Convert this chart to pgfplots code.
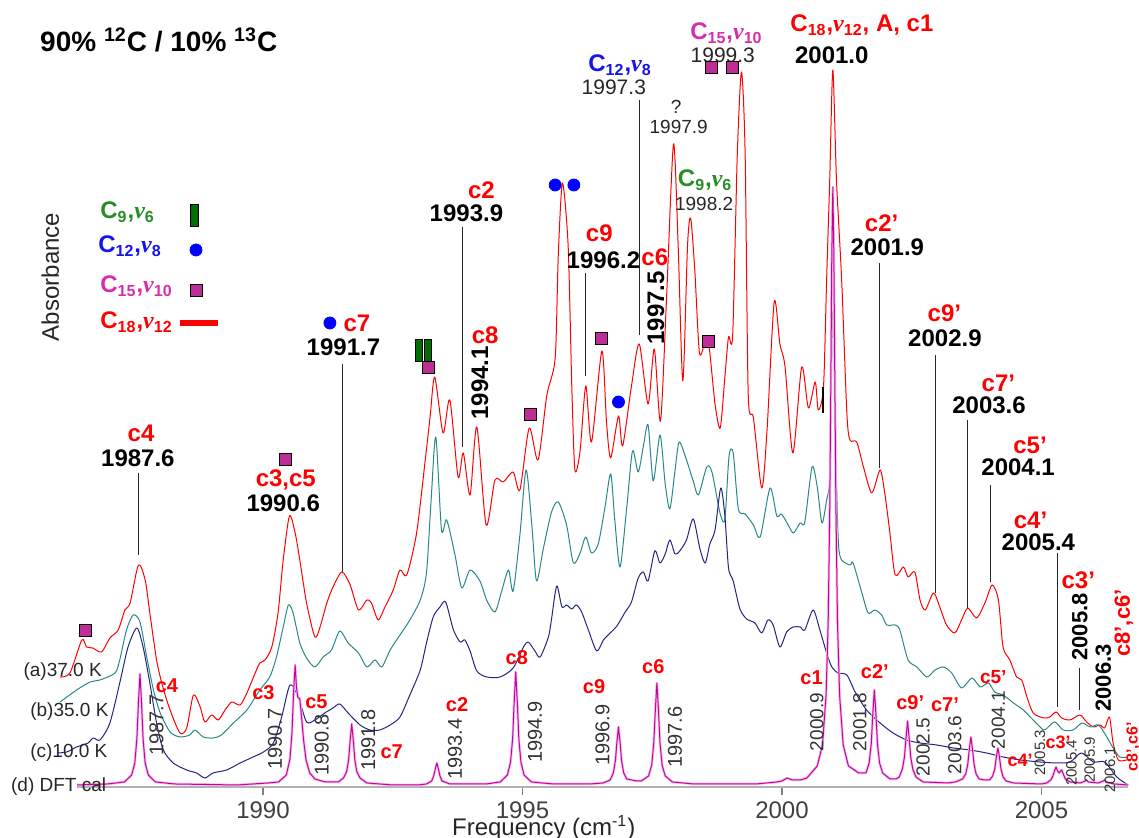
\documentclass[border=0pt]{standalone}
\usepackage{pgfplots}
\pgfplotsset{compat=1.18}
\usepackage{fontspec}
\setmainfont{Liberation Sans}
\newfontfamily\nufont{Liberation Serif}
\newcommand{\nuu}{{\nufont\itshape ν}}
\newcommand{\fs}[1]{\fontsize{#1}{#1}\selectfont}
\definecolor{cred}{RGB}{255,0,0}
\definecolor{cteal}{RGB}{40,135,135}
\definecolor{cnavy}{RGB}{35,35,130}
\definecolor{cmag}{RGB}{200,0,160}
\definecolor{cpink}{RGB}{243,190,232}
\definecolor{cgreen}{RGB}{40,140,40}
\definecolor{cblue}{RGB}{20,20,235}
\definecolor{ctxmag}{RGB}{215,45,170}
\definecolor{csq}{RGB}{190,45,150}
\definecolor{cbar}{RGB}{0,110,0}
\pgfdeclareplotmark{gbar}{\pgfpathrectangle{\pgfqpoint{-1.8pt}{-5.5pt}}{\pgfqpoint{3.6pt}{11pt}}\pgfusepathqfillstroke}
\tikzset{
 every node/.append style={inner sep=0pt},
 rb/.style={text=cred, font=\fs{12}\bfseries},
 kb/.style={text=black, font=\fs{12}\bfseries},
 kr/.style={text=black!85, font=\fs{10.5}},
 ks/.style={text=black!85, font=\fs{9.5}},
 lr/.style={text=cred, font=\fs{10}\bfseries},
 lk/.style={text=black!80, font=\fs{10}, rotate=90},
 ld/.style={draw=black!85, line width=0.5pt},
}
\begin{document}
\begin{tikzpicture}
\begin{axis}[
  scale only axis, width=525.49pt, height=393.5pt,
  xmin=1986.42, xmax=2006.67, ymin=0, ymax=787,
  axis x line=bottom, axis y line=none,
  x axis line style={-, black!30, line width=1pt},
  xtick={1990,1995,2000,2005}, xticklabels={1990,1995,2000,2005},
  tick align=outside, major tick length=4pt,
  tick style={black!50, line width=0.6pt},
  xticklabel style={font=\fs{12}, text=black!75, yshift=-3pt},
  clip=false,
]
% (a) 37 K
\addplot[color=cred, line width=0.5pt, line join=round, smooth, tension=0.45] table {
x y
1986.09 110
1986.28 114
1986.51 147
1986.60 140
1986.72 139
1986.89 135
1987.05 149
1987.21 157
1987.34 177
1987.44 184
1987.60 222
1987.73 207
1987.82 174
1987.95 127
1988.07 100
1988.21 77
1988.40 54
1988.53 59
1988.66 92
1988.79 80
1988.88 65
1989.01 72
1989.14 67
1989.27 77
1989.40 85
1989.56 82
1989.69 94
1989.85 114
1989.94 124
1990.04 127
1990.17 140
1990.29 174
1990.39 227
1990.51 271
1990.62 254
1990.71 227
1990.84 184
1991.00 150
1991.10 160
1991.23 184
1991.35 200
1991.52 215
1991.68 202
1991.84 177
1992.00 187
1992.09 184
1992.22 167
1992.35 180
1992.51 197
1992.64 217
1992.77 212
1992.96 254
1993.12 324
1993.22 370
1993.31 410
1993.47 354
1993.60 387
1993.76 310
1993.86 334
1993.99 292
1994.12 360
1994.30 262
1994.47 307
1994.63 305
1994.82 315
1994.95 297
1995.13 359
1995.30 327
1995.47 392
1995.63 429
1995.69 532
1995.77 604
1995.88 541
1995.95 401
1996.01 317
1996.11 336
1996.22 401
1996.33 345
1996.53 436
1996.62 364
1996.70 329
1996.85 371
1996.93 341
1997.10 401
1997.25 443
1997.42 383
1997.54 438
1997.66 366
1997.78 494
1997.91 643
1998.00 541
1998.09 406
1998.18 541
1998.24 569
1998.32 517
1998.41 434
1998.52 445
1998.60 438
1998.71 383
1998.81 359
1998.90 410
1998.97 450
1999.05 452
1999.14 634
1999.22 715
1999.29 634
1999.35 392
1999.45 369
1999.61 299
1999.71 355
1999.85 485
1999.96 443
2000.06 420
2000.21 334
2000.38 420
2000.51 379
2000.64 405
2000.70 377
2000.80 400
2000.86 507
2000.92 607
2000.98 717
2001.05 607
2001.15 507
2001.25 374
2001.31 347
2001.44 345
2001.57 320
2001.73 294
2001.89 317
2001.98 294
2002.08 254
2002.18 212
2002.34 220
2002.43 210
2002.56 215
2002.66 187
2002.76 177
2002.92 194
2003.04 180
2003.17 162
2003.33 154
2003.46 167
2003.58 179
2003.75 169
2003.91 184
2004.05 202
2004.17 187
2004.26 140
2004.39 127
2004.52 110
2004.62 107
2004.72 90
2004.84 74
2005.04 69
2005.16 70
2005.28 75
2005.39 69
2005.55 67
2005.74 72
2005.87 65
2006.00 60
2006.13 62
2006.22 59
2006.31 70
2006.38 44
2006.48 27
2006.64 27
};
% (b) 35 K
\addplot[color=cteal, line width=0.5pt, line join=round, smooth, tension=0.45] table {
x y
1986.09 85
1986.41 97
1986.67 105
1986.86 107
1987.15 114
1987.24 127
1987.37 157
1987.50 172
1987.63 165
1987.76 130
1987.89 97
1988.02 74
1988.21 55
1988.40 50
1988.59 52
1988.69 57
1988.85 50
1989.04 49
1989.20 52
1989.43 64
1989.69 77
1989.94 97
1990.13 110
1990.26 130
1990.39 160
1990.49 182
1990.58 174
1990.71 144
1990.84 129
1991.00 120
1991.16 130
1991.32 137
1991.48 156
1991.64 144
1991.84 134
1992.00 120
1992.16 127
1992.29 120
1992.45 137
1992.64 152
1992.83 167
1993.03 187
1993.15 214
1993.24 287
1993.33 350
1993.44 257
1993.54 267
1993.70 232
1993.83 199
1993.99 217
1994.18 206
1994.31 187
1994.47 175
1994.60 196
1994.73 217
1994.82 196
1994.95 252
1995.07 317
1995.18 262
1995.27 206
1995.40 238
1995.56 275
1995.69 285
1995.85 262
1995.98 224
1996.11 234
1996.22 250
1996.33 234
1996.46 243
1996.59 280
1996.70 313
1996.78 266
1996.88 220
1997.01 280
1997.12 336
1997.23 315
1997.33 341
1997.42 362
1997.52 306
1997.65 352
1997.75 303
1997.84 278
1997.94 317
1998.02 345
1998.16 327
1998.29 306
1998.39 292
1998.55 320
1998.65 315
1998.81 273
1998.90 268
1998.98 331
1999.06 334
1999.16 278
1999.29 273
1999.45 262
1999.58 250
1999.77 299
1999.90 271
1999.99 273
2000.12 262
2000.22 254
2000.35 264
2000.44 265
2000.58 320
2000.68 300
2000.77 264
2000.86 287
2000.93 317
2000.98 487
2001.05 307
2001.09 242
2001.15 227
2001.31 222
2001.37 224
2001.54 194
2001.66 174
2001.79 177
2001.92 172
2002.02 162
2002.18 162
2002.27 157
2002.43 127
2002.60 120
2002.79 110
2002.95 117
2003.11 120
2003.27 114
2003.46 99
2003.66 109
2003.82 100
2003.98 104
2004.10 95
2004.26 92
2004.46 84
2004.65 77
2004.84 67
2005.04 57
2005.13 60
2005.26 65
2005.42 57
2005.61 57
2005.78 64
2005.94 60
2006.10 62
2006.26 50
2006.38 39
2006.51 30
2006.67 30
};
% (c) 10 K
\addplot[color=cnavy, line width=0.5pt, line join=round, smooth, tension=0.45] table {
x y
1986.03 34
1986.22 35
1986.41 40
1986.63 44
1986.73 49
1986.86 47
1987.05 64
1987.24 104
1987.40 140
1987.57 159
1987.69 140
1987.82 104
1987.95 64
1988.08 37
1988.27 24
1988.53 17
1988.72 14
1988.88 9
1989.04 14
1989.30 17
1989.56 24
1989.81 30
1990.01 35
1990.20 44
1990.36 70
1990.52 102
1990.68 90
1990.84 65
1991.00 67
1991.19 74
1991.35 79
1991.48 83
1991.64 74
1991.87 62
1992.06 57
1992.25 57
1992.45 62
1992.64 70
1992.83 92
1993.03 117
1993.15 144
1993.28 170
1993.41 180
1993.52 185
1993.67 157
1993.80 145
1993.89 147
1993.99 136
1994.12 116
1994.31 110
1994.57 110
1994.82 119
1995.02 140
1995.11 145
1995.24 136
1995.34 130
1995.50 150
1995.56 168
1995.66 201
1995.76 180
1995.85 182
1995.95 178
1996.04 182
1996.14 175
1996.27 157
1996.43 136
1996.56 147
1996.69 154
1996.82 161
1996.98 175
1997.10 185
1997.23 209
1997.33 215
1997.42 206
1997.55 236
1997.65 224
1997.75 233
1997.84 247
1997.94 233
1998.03 236
1998.16 247
1998.29 268
1998.42 238
1998.52 224
1998.61 243
1998.71 257
1998.82 299
1998.90 271
1998.97 219
1999.06 206
1999.19 178
1999.32 168
1999.48 164
1999.61 154
1999.73 167
1999.83 162
1999.96 140
2000.09 155
2000.22 160
2000.35 160
2000.44 157
2000.60 177
2000.73 157
2000.86 134
2000.96 120
2001.08 114
2001.25 112
2001.41 95
2001.63 77
2001.89 64
2002.14 54
2002.40 47
2002.66 44
2002.98 42
2003.30 39
2003.62 37
2003.94 34
2004.26 30
2004.59 27
2004.97 25
2005.29 24
2005.55 25
2005.77 34
2006.00 25
2006.22 25
2006.45 10
2006.67 2
};
% (d) DFT
\pgfplotstableread{
x y
1986.42 2
1987.00 3
1987.33 5
1987.47 12
1987.53 24
1987.57 48
1987.60 84
1987.63 113
1987.66 84
1987.69 48
1987.73 24
1987.79 12
1987.93 5
1988.30 3
1989.50 2
1990.10 4
1990.30 5
1990.45 12
1990.52 28
1990.56 55
1990.59 95
1990.62 122
1990.645 100
1990.67 90
1990.71 88
1990.74 72
1990.78 48
1990.83 27
1990.90 14
1991.00 8
1991.20 5
1991.45 5
1991.55 9
1991.61 15
1991.65 27
1991.68 47
1991.71 63
1991.74 47
1991.77 27
1991.81 15
1991.87 9
1992.00 4
1992.50 2
1993.00 2
1993.15 3
1993.25 6
1993.29 11
1993.32 18
1993.35 24
1993.38 18
1993.41 11
1993.45 6
1993.60 3
1994.30 3
1994.57 5
1994.71 12
1994.77 25
1994.81 48
1994.84 85
1994.87 115
1994.90 85
1994.93 48
1994.97 25
1995.03 12
1995.17 5
1995.60 3
1996.30 3
1996.55 4
1996.69 7
1996.75 14
1996.79 26
1996.82 45
1996.85 60
1996.88 45
1996.91 26
1996.95 14
1997.01 8
1997.20 6
1997.29 6
1997.43 11
1997.49 22
1997.53 44
1997.56 77
1997.59 104
1997.62 77
1997.65 44
1997.69 22
1997.75 11
1997.89 5
1998.30 3
1999.50 3
1999.90 5
2000.00 6
2000.10 9
2000.20 7
2000.35 7
2000.48 9
2000.68 21
2000.78 42
2000.85 92
2000.89 164
2000.92 276
2000.94 394
2000.96 531
2000.98 600
2001.00 531
2001.02 394
2001.04 276
2001.07 164
2001.11 92
2001.18 42
2001.28 21
2001.48 14
2001.62 14
2001.68 24
2001.72 43
2001.75 73
2001.78 97
2001.81 73
2001.84 43
2001.88 24
2001.94 14
2002.08 8
2002.20 8
2002.26 10
2002.32 18
2002.36 30
2002.39 49
2002.42 66
2002.45 49
2002.48 30
2002.52 18
2002.58 10
2002.72 5
2003.20 4
2003.34 5
2003.48 8
2003.54 13
2003.58 23
2003.61 38
2003.64 50
2003.67 38
2003.70 23
2003.74 13
2003.80 8
2003.90 7
2004.00 7
2004.06 11
2004.10 18
2004.13 30
2004.16 39
2004.19 30
2004.22 18
2004.26 10
2004.32 6
2004.46 4
2005.00 3
2005.10 4
2005.18 7
2005.22 11
2005.25 16
2005.28 20
2005.31 16
2005.34 14
2005.37 16
2005.39 17
2005.42 13
2005.46 8
2005.55 5
2005.75 4
2005.84 6
2005.87 7
2005.90 5
2006.10 4
2006.19 6
2006.22 7
2006.25 5
2006.40 3
2006.67 2
}\dft
\addplot[color=cpink, line width=1.3pt, line join=round] table {\dft};
\addplot[color=cmag, line width=0.5pt, line join=round] table {\dft};
% markers
\addplot[only marks, mark=square*, mark size=3pt, mark options={fill=csq, draw=black, line width=0.5pt}] coordinates {
(1986.59,156) (1990.44,327) (1993.19,419) (1995.16,372) (1996.53,448) (1998.59,445) (1998.64,719) (1999.04,719) (1988.72,496.5)};
\addplot[only marks, mark=*, mark size=3pt, mark options={fill=blue, draw=blue}] coordinates {
(1991.29,464) (1995.63,602) (1995.99,602) (1996.85,385) (1988.71,537)};
\addplot[only marks, mark=gbar, mark options={fill=cbar, draw=black, line width=0.5pt}] coordinates {
(1993.01,436) (1993.18,436) (1988.68,571)};
\addplot[color=cred, line width=2.6pt] coordinates {(1988.40,464) (1989.13,464)};
% title, legend, axis label
\node[anchor=west, font=\fs{14}\bfseries] at (axis cs:1985.70,747) {90\% \textsuperscript{12}C / 10\% \textsuperscript{13}C};
\node[anchor=west, text=cgreen, font=\fs{12}\bfseries] at (axis cs:1986.86,575) {C\textsubscript{9},\nuu\textsubscript{6}};
\node[anchor=west, text=cblue, font=\fs{12}\bfseries] at (axis cs:1986.82,541) {C\textsubscript{12},\nuu\textsubscript{8}};
\node[anchor=west, text=ctxmag, font=\fs{12}\bfseries] at (axis cs:1986.86,501) {C\textsubscript{15},\nuu\textsubscript{10}};
\node[anchor=west, text=cred, font=\fs{12}\bfseries] at (axis cs:1986.86,465) {C\textsubscript{18},\nuu\textsubscript{12}};
\node[rotate=90, font=\fs{12}, text=black!85] at (axis cs:1985.90,510) {Absorbance};
\node[font=\fs{12}, text=black!85] at (axis cs:1995.41,-41) {Frequency (cm\textsuperscript{-1})};
% upper peak labels
\node[rb] at (axis cs:1987.65,354) {c4};
\node[kb] at (axis cs:1987.59,329) {1987.6};
\draw[ld] (axis cs:1987.60,314) -- (axis cs:1987.60,232);
\node[rb] at (axis cs:1990.44,307) {c3,c5};
\node[kb] at (axis cs:1990.39,284) {1990.6};
\node[rb] at (axis cs:1991.81,464) {c7};
\node[kb] at (axis cs:1991.55,440) {1991.7};
\draw[ld] (axis cs:1991.54,423) -- (axis cs:1991.54,215);
\node[rb] at (axis cs:1994.21,597) {c2};
\node[kb] at (axis cs:1993.92,574) {1993.9};
\draw[ld] (axis cs:1993.85,560) -- (axis cs:1993.85,340);
\node[rb] at (axis cs:1994.28,452) {c8};
\node[kb, rotate=90] at (axis cs:1994.18,404) {1994.1};
\node[rb] at (axis cs:1996.48,554) {c9};
\node[kb] at (axis cs:1996.56,527) {1996.2};
\draw[ld] (axis cs:1996.22,514) -- (axis cs:1996.22,411);
\node[rb] at (axis cs:1997.55,530) {c6};
\node[kb, rotate=90] at (axis cs:1997.57,479) {1997.5};
\node[text=cblue, font=\fs{12}\bfseries] at (axis cs:1996.88,722) {C\textsubscript{12},\nuu\textsubscript{8}};
\node[kr] at (axis cs:1996.76,700) {1997.3};
\draw[ld] (axis cs:1997.26,687) -- (axis cs:1997.26,452);
\node[ks] at (axis cs:1997.96,680) {?};
\node[ks] at (axis cs:1998.01,660) {1997.9};
\node[text=cgreen, font=\fs{12}\bfseries] at (axis cs:1998.52,607) {C\textsubscript{9},\nuu\textsubscript{6}};
\node[ks] at (axis cs:1998.50,583) {1998.2};
\node[text=ctxmag, font=\fs{12}\bfseries] at (axis cs:1998.93,754) {C\textsubscript{15},\nuu\textsubscript{10}};
\node[kr] at (axis cs:1998.86,732) {1999.3};
\node[text=cred, font=\fs{12}\bfseries] at (axis cs:2001.54,762) {C\textsubscript{18},\nuu\textsubscript{12}, A, c1};
\node[kb] at (axis cs:2000.96,732) {2001.0};
\draw[draw=black, line width=0.8pt] (axis cs:2000.79,400) -- (axis cs:2000.79,374);
\node[rb] at (axis cs:2001.92,564) {c2’};
\node[kb] at (axis cs:2002.03,540) {2001.9};
\draw[ld] (axis cs:2001.87,524) -- (axis cs:2001.87,319);
\node[rb] at (axis cs:2003.13,474) {c9’};
\node[kb] at (axis cs:2003.14,449) {2002.9};
\draw[ld] (axis cs:2002.95,432) -- (axis cs:2002.95,194);
\node[rb] at (axis cs:2004.17,404) {c7’};
\node[kb] at (axis cs:2003.99,382) {2003.6};
\draw[ld] (axis cs:2003.58,367) -- (axis cs:2003.58,179);
\node[rb] at (axis cs:2004.78,342) {c5’};
\node[kb] at (axis cs:2004.55,320) {2004.1};
\draw[ld] (axis cs:2004.02,302) -- (axis cs:2004.02,205);
\node[rb] at (axis cs:2004.79,267) {c4’};
\node[kb] at (axis cs:2004.94,245) {2005.4};
\draw[ld] (axis cs:2005.31,234) -- (axis cs:2005.31,80);
\node[rb] at (axis cs:2005.71,207) {c3’};
\node[kb, font=\fs{11}\bfseries, rotate=90] at (axis cs:2005.74,160) {2005.8};
\draw[ld] (axis cs:2005.74,119) -- (axis cs:2005.74,77);
\node[kb, font=\fs{11}\bfseries, rotate=90] at (axis cs:2006.19,109) {2006.3};
\node[rb, font=\fs{11}\bfseries, rotate=90] at (axis cs:2006.59,164) {c8’,c6’};
% trace labels
\node[anchor=west, ks] at (axis cs:1985.38,115) {(a)37.0 K};
\node[anchor=west, ks] at (axis cs:1985.51,75) {(b)35.0 K};
\node[anchor=west, ks] at (axis cs:1985.51,34) {(c)10.0 K};
\node[anchor=west, ks] at (axis cs:1985.14,0) {(d) DFT cal};
% DFT labels
\node[lr] at (axis cs:1988.15,101) {c4};
\node[lk] at (axis cs:1987.95,62) {1987.7};
\node[lr] at (axis cs:1990.01,94) {c3};
\node[lk] at (axis cs:1990.23,48) {1990.7};
\node[lr] at (axis cs:1991.03,85) {c5};
\node[lk] at (axis cs:1991.13,42) {1990.8};
\node[lk] at (axis cs:1992.03,47) {1991.8};
\node[lr] at (axis cs:1992.48,35) {c7};
\node[lr] at (axis cs:1993.74,82) {c2};
\node[lk] at (axis cs:1993.70,38) {1993.4};
\node[lr] at (axis cs:1994.89,129) {c8};
\node[lk] at (axis cs:1995.24,55) {1994.9};
\node[lr] at (axis cs:1996.38,100) {c9};
\node[lk] at (axis cs:1996.54,52) {1996.9};
\node[lr] at (axis cs:1997.52,120) {c6};
\node[lk] at (axis cs:1997.94,50) {1997.6};
\node[lr] at (axis cs:2000.57,109) {c1};
\node[lk, font=\fs{9.5}] at (axis cs:2000.67,65) {2000.9};
\node[lr] at (axis cs:2001.79,115) {c2’};
\node[lk, font=\fs{9.5}] at (axis cs:2001.50,65) {2001.8};
\node[lr] at (axis cs:2002.47,84) {c9’};
\node[lk, font=\fs{9.5}] at (axis cs:2002.72,40) {2002.5};
\node[lr] at (axis cs:2003.14,82) {c7’};
\node[lk, font=\fs{9.5}] at (axis cs:2003.33,42) {2003.6};
\node[lr, font=\fs{9.5}\bfseries] at (axis cs:2004.07,110) {c5’};
\node[lk, font=\fs{9.5}] at (axis cs:2004.17,67) {2004.1};
\node[lr, font=\fs{9}\bfseries] at (axis cs:2004.59,27) {c4’};
\node[lk, font=\fs{7.5}] at (axis cs:2004.97,34) {2005.3};
\node[lr, font=\fs{9}\bfseries] at (axis cs:2005.32,45) {c3’};
\node[lk, font=\fs{7.5}] at (axis cs:2005.58,24) {2005.4};
\node[lk, font=\fs{7.5}] at (axis cs:2005.93,27) {2005.9};
\node[lk, font=\fs{7.5}] at (axis cs:2006.32,17) {2006.1};
\node[lr, font=\fs{8}\bfseries, rotate=90] at (axis cs:2006.77,40) {c8’,c6’};
\coordinate (BL) at (axis cs:1984.933,-51);
\coordinate (TR) at (axis cs:2006.879,787);
\end{axis}
\pgfresetboundingbox
\path[use as bounding box] (BL) rectangle (TR);
\end{tikzpicture}
\end{document}
